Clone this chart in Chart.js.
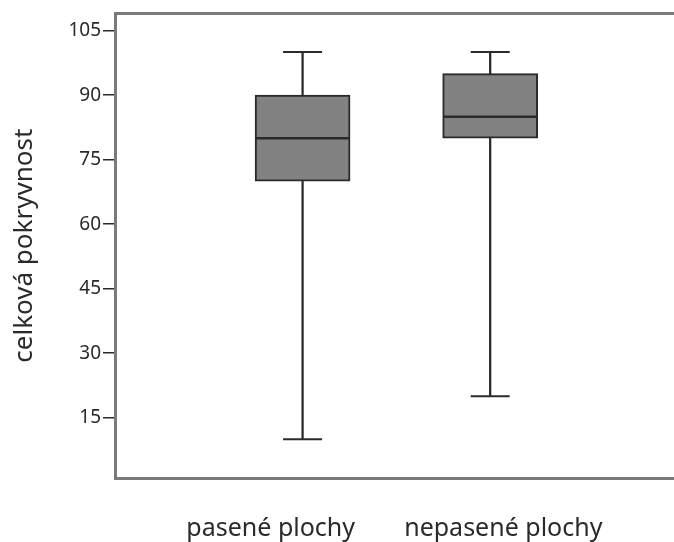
<!DOCTYPE html>
<html>
<head>
<meta charset="utf-8">
<script src="https://cdn.jsdelivr.net/npm/chart.js@4"></script>
<style>
  html,body{margin:0;padding:0;background:#fff;}
  #wrap{width:674px;height:542px;position:relative;}
</style>
</head>
<body>
<div id="wrap"><canvas id="c" width="674" height="542"></canvas></div>
<script>
// box plot data
const categories = ['pasené plochy', 'nepasené plochy'];
const mins    = [10, 20];
const q1s     = [70, 80];
const medians = [80, 85];
const q3s     = [90, 95];
const maxs    = [100, 100];
const yTicks  = [15, 30, 45, 60, 75, 90, 105];

const FONT = '"Noto Sans", "Open Sans", sans-serif';
const ink = '#2a2a2a';
const frame = '#7a7a7a';

// box i sits at x = i + 1 on a linear axis
const pos = categories.map((c, i) => i + 1);
const boxData     = pos.map((x, i) => ({x, y: [q1s[i], q3s[i]]}));
const whiskerData = pos.map((x, i) => ({x, y: [mins[i], maxs[i]]}));
const medianData  = pos.map((x, i) => ({x, y: medians[i]}));
const capData     = pos.flatMap((x, i) => [{x, y: mins[i]}, {x, y: maxs[i]}]);

// top frame line (the original has no right border)
const topLine = {
  id: 'topLine',
  afterDraw(chart){
    const {ctx, chartArea:a} = chart;
    ctx.save();
    ctx.strokeStyle = frame; ctx.lineWidth = 3;
    ctx.beginPath(); ctx.moveTo(a.left, a.top); ctx.lineTo(chart.width, a.top); ctx.stroke();
    ctx.restore();
  }
};

new Chart(document.getElementById('c'), {
  data: {
    datasets: [
      {type:'bar', data: whiskerData, barThickness: 1.6, backgroundColor: ink, grouped:false, order: 4},
      {type:'bar', data: boxData, barThickness: 95, backgroundColor:'#828282', borderColor: ink,
        borderWidth: 2, borderSkipped: false, grouped:false, order: 3},
      {type:'scatter', data: medianData, pointStyle:'line', radius: 47, hoverRadius: 47,
        borderColor: ink, borderWidth: 2.5, order: 2},
      {type:'scatter', data: capData, pointStyle:'line', radius: 19.5, hoverRadius: 19.5,
        borderColor: ink, borderWidth: 2, order: 1}
    ]
  },
  options: {
    responsive: false,
    animation: false,
    layout: {autoPadding: false, padding: {top: 8, left: 0, right: -4, bottom: 0}},
    plugins: {legend:{display:false}, tooltip:{enabled:false}},
    scales: {
      x: {
        type: 'linear', min: 0, max: 2.98, offset: false,
        afterFit(s){ s.height = 64; },
        // the category labels sit a little left of their boxes in the original
        afterBuildTicks(s){ s.ticks = [0.83, 2.07].map(v => ({value: v})); },
        grid: {display: false, offset: false},
        border: {color: frame, width: 3},
        ticks: {
          padding: 28, color: ink, font: {family: FONT, size: 25}, maxRotation: 0,
          callback: (v, i) => categories[i]
        }
      },
      y: {
        min: 1, max: 109,
        afterFit(s){ s.width = 115; },
        afterBuildTicks(s){ s.ticks = yTicks.map(v => ({value: v})); },
        grid: {drawOnChartArea: false, drawTicks: true, tickLength: 12, color: ink, lineWidth: 1.5},
        border: {color: frame, width: 3},
        ticks: {padding: 2, color: ink, font: {family: FONT, size: 19}},
        title: {
          display: true, text: 'celková pokryvnost', color: ink,
          font: {family: FONT, size: 26}, padding: {top: 9, bottom: 0}
        }
      }
    }
  },
  plugins: [topLine]
});
</script>
</body>
</html>
